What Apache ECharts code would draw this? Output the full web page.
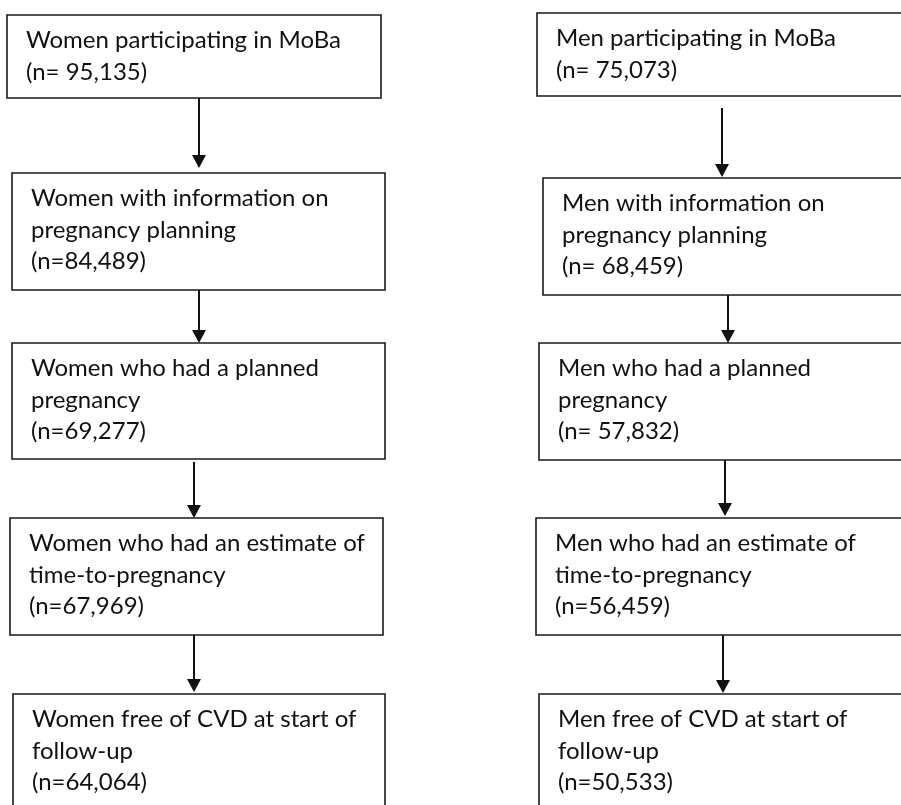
<!DOCTYPE html>
<html>
<head>
<meta charset="utf-8">
<script src="https://cdn.jsdelivr.net/npm/echarts@6/dist/echarts.min.js"></script>
<style>
  html, body { margin: 0; padding: 0; background: #fff; }
  #flow { width: 901px; height: 805px; }
</style>
</head>
<body>
<div id="flow"></div>
<script>
/*
 * MoBa flow chart: women (left) and men (right)
 */
// box texts, top to bottom
var womenSteps = [
    'Women participating in MoBa',
    'Women with information on\npregnancy planning',
    'Women who had a planned\npregnancy',
    'Women who had an estimate of\ntime-to-pregnancy',
    'Women free of CVD at start of\nfollow-up'
];
var womenN = ['95,135', '84,489', '69,277', '67,969', '64,064'];
var womenGap = [' ', '', '', '', ''];   // "n= " or "n="

var menSteps = [
    'Men participating in MoBa',
    'Men with information on\npregnancy planning',
    'Men who had a planned\npregnancy',
    'Men who had an estimate of\ntime-to-pregnancy',
    'Men free of CVD at start of\nfollow-up'
];
var menN = ['75,073', '68,459', '57,832', '56,459', '50,533'];
var menGap = [' ', ' ', ' ', '', ''];

// layout (page units = px): [left, top, right, bottom]
var womenBoxes = [
    [7, 15, 381, 98],
    [12, 173, 385, 290],
    [12, 343, 385, 459],
    [10, 518, 383, 635],
    [13, 694, 385, 830]
];
var menBoxes = [
    [537, 13, 920, 96],
    [543, 178, 920, 295],
    [539, 343, 920, 460],
    [536, 518, 920, 635],
    [539, 694, 920, 830]
];
// arrows: [x, from y, to y (tip)]
var womenArrows = [[199, 98, 168], [199, 290, 343], [194, 462, 518], [194, 635, 692]];
var menArrows = [[722, 108, 177], [728, 295, 343], [725, 460, 516], [723, 635, 693]];

function boxText(steps, n, gap, i) {
    return steps[i] + '\n(n=' + gap[i] + n[i] + ')';
}

var boxData = [];
womenBoxes.forEach(function (b, i) {
    boxData.push({ value: b, text: boxText(womenSteps, womenN, womenGap, i) });
});
menBoxes.forEach(function (b, i) {
    boxData.push({ value: b, text: boxText(menSteps, menN, menGap, i) });
});
var arrowData = womenArrows.concat(menArrows);

var flow = echarts.init(document.getElementById('flow'));
var option = {
    animation: false,
    grid: { left: 0, right: 0, top: 0, bottom: 0 },
    xAxis: { type: 'value', min: 0, max: 901, show: false },
    yAxis: { type: 'value', min: 0, max: 805, inverse: true, show: false },
    series: [
        {
            type: 'custom',
            clip: false,
            data: boxData,
            renderItem: function (params, api) {
                var p0 = api.coord([api.value(0), api.value(1)]);
                var p1 = api.coord([api.value(2), api.value(3)]);
                return {
                    type: 'group',
                    children: [
                        {
                            type: 'rect',
                            shape: { x: p0[0], y: p0[1], width: p1[0] - p0[0], height: p1[1] - p0[1] },
                            style: { fill: '#fff', stroke: '#1a1a1a', lineWidth: 1.6 }
                        },
                        {
                            type: 'text',
                            x: p0[0] + 19,
                            y: p0[1] + 10,
                            style: {
                                text: boxData[params.dataIndex].text,
                                fontFamily: 'Lato',
                                fontSize: 24,
                                lineHeight: 31.5,
                                fill: '#111',
                                verticalAlign: 'top',
                                align: 'left'
                            }
                        }
                    ]
                };
            }
        },
        {
            type: 'custom',
            clip: false,
            data: arrowData,
            renderItem: function (params, api) {
                var a = api.coord([api.value(0), api.value(1)]);
                var b = api.coord([api.value(0), api.value(2)]);
                var head = 13;
                return {
                    type: 'group',
                    children: [
                        {
                            type: 'line',
                            shape: { x1: a[0], y1: a[1], x2: b[0], y2: b[1] - head + 1 },
                            style: { stroke: '#111', lineWidth: 2 }
                        },
                        {
                            type: 'polygon',
                            shape: { points: [[b[0] - 7, b[1] - head], [b[0] + 7, b[1] - head], [b[0], b[1]]] },
                            style: { fill: '#111' }
                        }
                    ]
                };
            }
        }
    ]
};
flow.setOption(option);
</script>
</body>
</html>
